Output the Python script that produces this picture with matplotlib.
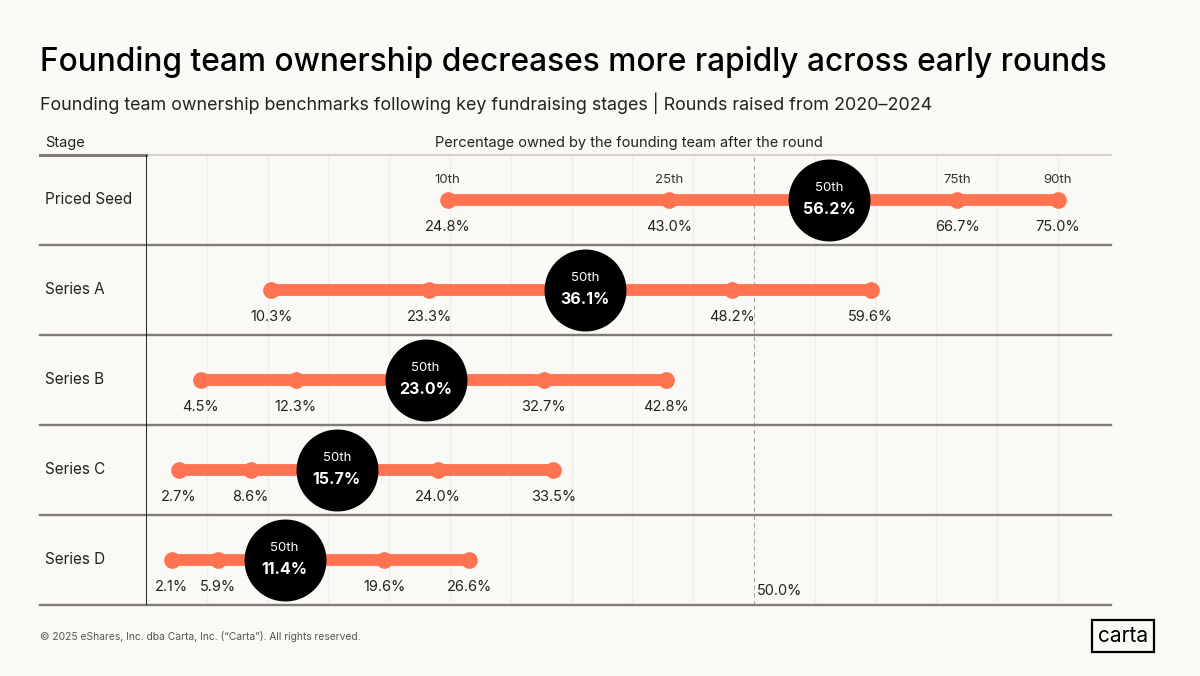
import matplotlib.pyplot as plt
import numpy as np

stages = ["Priced Seed", "Series A", "Series B", "Series C", "Series D"]
p10 = [24.8, 10.3, 4.5, 2.7, 2.1]
p25 = [43.0, 23.3, 12.3, 8.6, 5.9]
p50 = [56.2, 36.1, 23.0, 15.7, 11.4]
p75 = [66.7, 48.2, 32.7, 24.0, 19.6]
p90 = [75.0, 59.6, 42.8, 33.5, 26.6]
ref_value = 50.0

bg = "#FBF9F5"
orange = "#FF7350"
rowline = "#807D79"
grid = "#F0EEEA"

plt.rcParams['font.family'] = ['Inter', 'DejaVu Sans']

fig = plt.figure(figsize=(12, 6.76), dpi=100)
fig.patch.set_facecolor(bg)

W, H = 1200, 676
x0, x1, y0, y1 = 146, 1111, 155, 605
ax = fig.add_axes([x0 / W, 1 - y1 / H, (x1 - x0) / W, (y1 - y0) / H])
ax.set_facecolor(bg)
xmax = 79.36
ax.set_xlim(0, xmax)
ax.set_ylim(len(stages), 0)
for s in ax.spines.values():
    s.set_visible(False)
ax.set_xticks([])
ax.set_yticks([])

# faint gridlines every 5%
for g in np.arange(5, 80, 5):
    if g != ref_value:
        ax.axvline(g, color=grid, lw=1, zorder=0)
ax.axvline(ref_value, color="#ABA8A4", lw=0.8, ls=(0, (4, 3)), zorder=0.5)
ax.text(ref_value + 0.25, len(stages) - 0.08, "50.0%", ha="left", va="bottom",
        fontsize=10.5, color="#222222")

# row separators
left_frac = (40 - x0) / (x1 - x0)
for i in range(1, len(stages) + 1):
    ax.axhline(i, xmin=left_frac, xmax=1, color=rowline, lw=1.7, clip_on=False, zorder=1)
ax.axhline(0, xmin=0, xmax=1, color="#D6D3CF", lw=1.5, clip_on=False, zorder=1)
ax.axhline(0, xmin=left_frac, xmax=0, color=rowline, lw=2.2, clip_on=False, zorder=1)
ax.axvline(0, color="black", lw=1.2, zorder=2)

trans = ax.get_yaxis_transform()
ax.text(left_frac + 0.005, -0.06, "Stage", transform=trans, ha="left", va="bottom",
        fontsize=10.5, color="#222222")
ax.text(0.5, -0.06, "Percentage owned by the founding team after the round",
        transform=trans, ha="center", va="bottom", fontsize=10.5, color="#222222")

for i, name in enumerate(stages):
    yc = i + 0.5
    ax.text(left_frac + 0.005, yc, name, transform=trans, ha="left", va="center",
            fontsize=11, color="#222222")
    ax.plot([p10[i], p90[i]], [yc, yc], color=orange, lw=8.5,
            solid_capstyle="round", zorder=3)
    others = [p10[i], p25[i], p75[i], p90[i]]
    ax.plot(others, [yc] * 4, "o", color=orange, ms=11, zorder=4)
    for v in others:
        ax.text(v, yc + 0.3, f"{v:.1f}%", ha="center", va="center",
                fontsize=10.5, color="#222222", zorder=5)
    ax.plot([p50[i]], [yc], "o", color="black", ms=58, zorder=6)
    ax.text(p50[i], yc - 0.13, "50th", ha="center", va="center",
            fontsize=9.5, color="white", zorder=7)
    ax.text(p50[i], yc + 0.1, f"{p50[i]:.1f}%", ha="center", va="center",
            fontsize=11.5, fontweight="bold", color="white", zorder=7)
    if i == 0:
        for v, lab in zip(others, ["10th", "25th", "75th", "90th"]):
            ax.text(v, yc - 0.22, lab, ha="center", va="center",
                    fontsize=9.5, color="#333333", zorder=5)

fig.text(40 / W, 1 - 62 / H, "Founding team ownership decreases more rapidly across early rounds",
         ha="left", va="center", fontsize=22.8, fontweight="medium", color="black")
fig.text(40 / W, 1 - 103 / H,
         "Founding team ownership benchmarks following key fundraising stages | Rounds raised from 2020\u20132024",
         ha="left", va="center", fontsize=12.9, color="#222222")
fig.text(40 / W, 1 - 636 / H,
         "\u00a9 2025 eShares, Inc. dba Carta, Inc. (\u201cCarta\u201d). All rights reserved.",
         ha="left", va="center", fontsize=7.4, color="#555555")
fig.text(1123 / W, 1 - 636 / H, "carta", ha="center", va="center", fontsize=15,
         color="black",
         bbox=dict(boxstyle="square,pad=0.3", fc=bg, ec="black", lw=1.6))

fig.savefig("out.png", dpi=100, facecolor=bg)
